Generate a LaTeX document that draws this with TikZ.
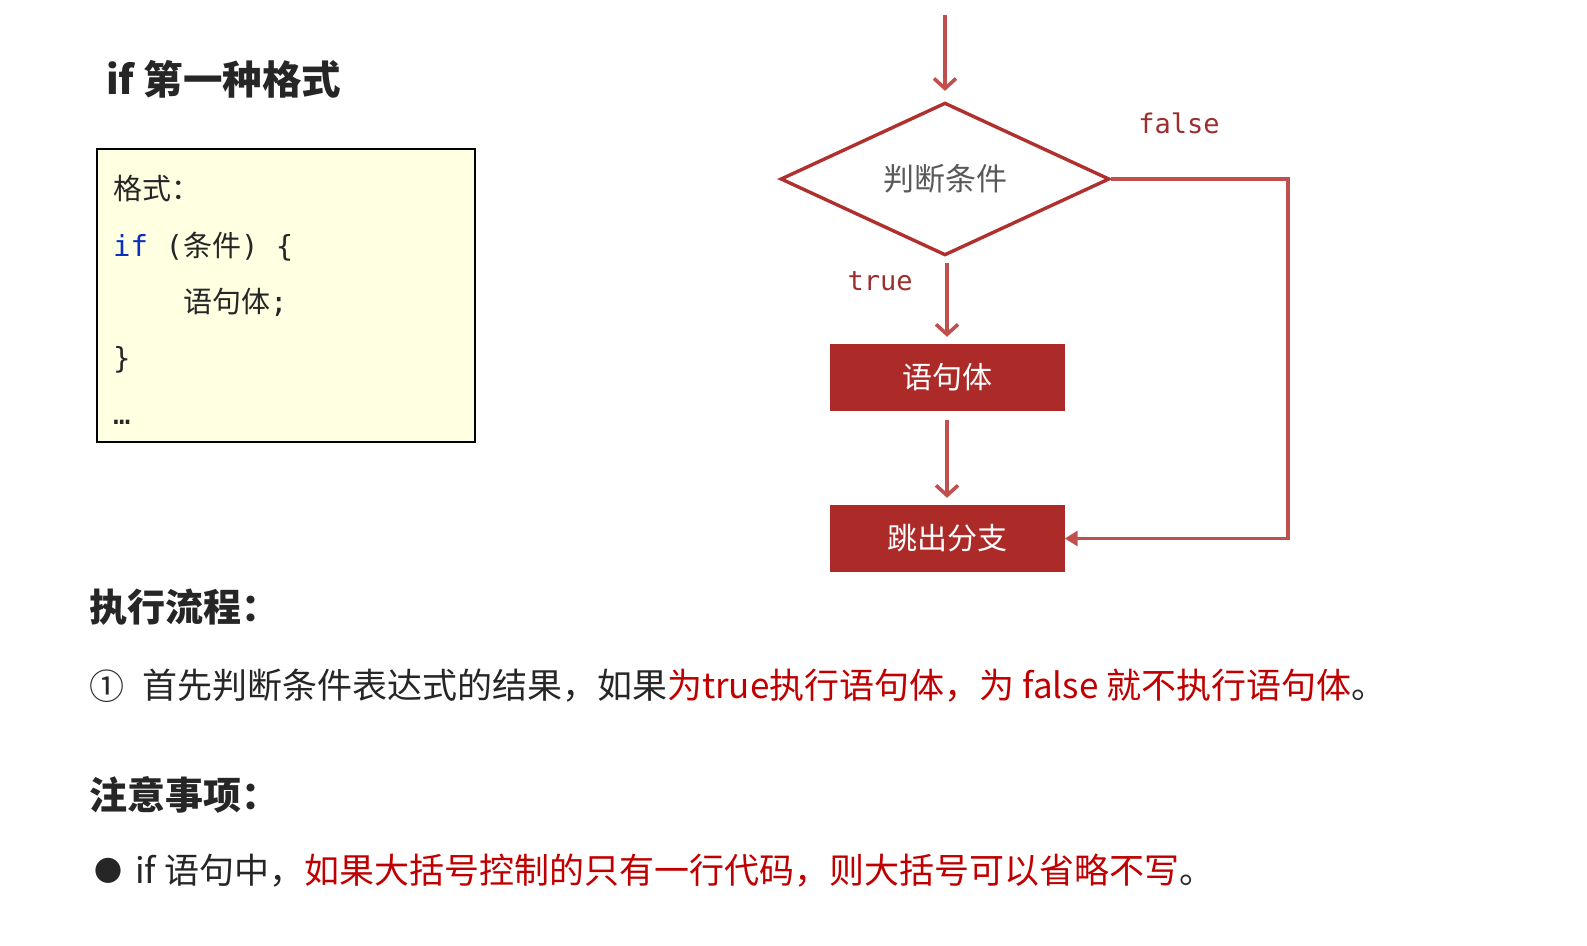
\documentclass[tikz,border=0pt]{standalone}
\usepackage{fontspec}
\setmainfont{Noto Sans CJK SC}
\newfontfamily\codefont{DejaVu Sans Mono}
\usetikzlibrary{shapes.geometric,arrows.meta}
\definecolor{arrowred}{HTML}{C0504D}
\definecolor{diamondred}{HTML}{B0302E}
\definecolor{boxred}{HTML}{AC2A27}
\definecolor{labelred}{HTML}{9C2E2E}
\definecolor{textred}{HTML}{C00000}
\definecolor{codebg}{HTML}{FFFFE2}
\definecolor{kwblue}{HTML}{0A2FBF}
\definecolor{diagray}{HTML}{595959}
\definecolor{bodyblack}{HTML}{262626}
\begin{document}
\begin{tikzpicture}[x=1pt,y=-1pt,
  arr/.style={draw=arrowred,line width=3.6pt,-{Straight Barb[length=10pt,width=22pt]}},
  arrf/.style={draw=arrowred,line width=3.6pt,-{Triangle[length=13pt,width=15pt]}},
  stepbox/.style={fill=boxred,text=white,minimum width=235pt,minimum height=67pt,inner sep=0pt,font=\fontsize{30}{30}\selectfont},
  head/.style={anchor=west,inner sep=0pt,text=bodyblack,font=\fontsize{38}{38}\selectfont\bfseries},
  body/.style={anchor=west,inner sep=0pt,text=bodyblack,font=\fontsize{35}{35}\selectfont},
  codeline/.style={anchor=west,inner sep=0pt,text=bodyblack,font=\fontsize{29}{29}\selectfont},
  flowlabel/.style={inner sep=0pt,text=labelred,font=\fontsize{27}{27}\selectfont\codefont}]
\useasboundingbox (0,0) rectangle (1587,945);

% title
\node[head,font=\fontsize{39.5}{39.5}\selectfont\bfseries] (title) at (106,79) {if 第一种格式};

% code box
\node[draw=black,line width=2.2pt,fill=codebg,minimum width=378pt,minimum height=293pt,inner sep=0pt] (codebox) at (286,295.5) {};
\node[codeline] (c1) at (113,188) {格式：};
\node[codeline] (c2) at (113,247) {{\codefont\color{kwblue}if}{\codefont\ (}条件{\codefont ) \{}};
\node[codeline] (c3) at (183,302) {语句体{\codefont ;}};
\node[codeline] (c4) at (113,360) {{\codefont \}}};
\node[codeline,anchor=base west] (c5) at (113,424) {{\codefont …}};

% flowchart
\coordinate (start) at (945,15);
\node[diamond,draw=diamondred,line width=3.4pt,minimum width=329pt,minimum height=150pt,inner sep=0pt,text=diagray,font=\fontsize{31}{31}\selectfont] (d) at (945,179) {判断条件\hspace{6pt}};
\node[stepbox] (b1) at (947,377.5) {语句体};
\node[stepbox] (b2) at (947,538.5) {跳出分支};
\coordinate (fc) at (1288,360);

\draw[arr] (start) -- ([yshift=10pt]d.north);
\draw[arr,shorten <=6pt,shorten >=7pt] (d.south -| b1.north) -- (b1.north);
\draw[arr,shorten <=9pt,shorten >=7pt] (b1.south) -- (b2.north);
\draw[arrf] (d.east) -| (fc) |- (b2.east);

\node[flowlabel] (lf) at (1179,123) {false};
\node[flowlabel] (lt) at (880,281) {true};

% execution flow
\node[head] (h1) at (89,607) {执行流程：};
\node[body] (n1) at (89,686) {①};
\node[body] (t1) at (142,686) {首先判断条件表达式的结果，如果\textcolor{textred}{为true执行语句体，为 false 就不执行语句体}。};

% notes
\node[head] (h2) at (89,795) {注意事项：};
\node[body,font=\fontsize{28}{28}\selectfont] (bul) at (94,871) {●};
\node[body] (t2) at (135,871) {if 语句中，\textcolor{textred}{如果大括号控制的只有一行代码，则大括号可以省略不写}。};
\end{tikzpicture}
\end{document}
